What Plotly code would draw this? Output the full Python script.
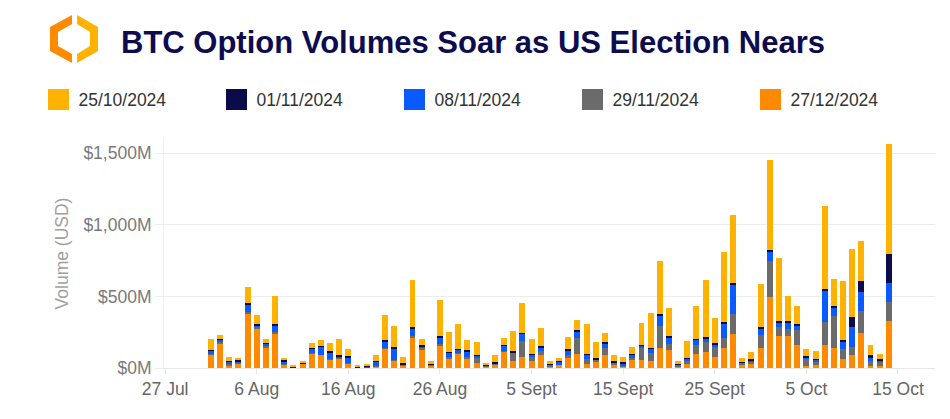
import plotly.graph_objects as go
import pandas as pd

# ---------------- data (USD millions) ----------------
dates = pd.date_range("2024-08-01", "2024-10-14", freq="D").strftime("%Y-%m-%d").tolist()

exp_25oct = [77, 28, 28, 16, 109, 61, 28, 195, 16, 9, 12, 33, 42, 54, 114, 51, 6, 7, 37, 172,
             151, 47, 326, 40, 23, 249, 139, 174, 70, 93, 12, 49, 49, 142, 204, 105, 126, 19, 16, 82,
             70, 204, 109, 63, 40, 40, 49, 153, 246, 372, 195, 16, 119, 225, 400, 172, 493, 474, 23, 47,
             298, 628, 444, 176, 123, 49, 58, 579, 190, 411, 476, 279, 70, 40, 767]
exp_01nov = [7, 7, 7, 7, 12, 9, 7, 9, 7, 5, 7, 7, 7, 7, 7, 7, 5, 7, 7, 9,
             9, 9, 9, 9, 7, 9, 7, 7, 7, 7, 7, 9, 7, 9, 9, 7, 7, 9, 7, 9,
             12, 7, 12, 9, 9, 7, 7, 7, 7, 7, 7, 9, 7, 7, 7, 7, 7, 9, 9, 9,
             9, 9, 9, 9, 9, 7, 7, 7, 9, 9, 72, 75, 19, 7, 204]
exp_08nov = [21, 16, 19, 14, 56, 9, 14, 44, 21, 2, 1, 30, 56, 47, 16, 40, 1, 5, 30, 49,
             79, 1, 56, 16, 1, 47, 33, 19, 42, 14, 1, 1, 37, 2, 47, 16, 26, 1, 23, 35,
             44, 28, 1, 30, 1, 19, 23, 14, 26, 75, 49, 1, 12, 35, 23, 23, 100, 209, 1, 9,
             44, 68, 35, 44, 35, 12, 12, 221, 61, 56, 137, 135, 23, 14, 137]
exp_29nov = [7, 9, 7, 3, 9, 12, 12, 12, 2, 1, 2, 7, 3, 3, 2, 2, 1, 1, 2, 2,
             2, 9, 12, 7, 7, 9, 7, 7, 7, 33, 9, 9, 7, 54, 112, 26, 30, 12, 1, 21,
             112, 35, 12, 51, 19, 1, 16, 82, 58, 153, 37, 14, 28, 63, 72, 65, 70, 142, 14, 16,
             91, 253, 61, 51, 103, 47, 23, 162, 228, 70, 58, 151, 33, 23, 130]
exp_27dec = [91, 174, 19, 30, 379, 277, 142, 242, 23, 2, 30, 98, 91, 61, 65, 33, 2, 4, 13, 135,
             54, 14, 211, 130, 14, 158, 68, 100, 68, 37, 9, 23, 112, 51, 79, 49, 89, 9, 21, 68,
             100, 30, 47, 89, 19, 12, 54, 58, 49, 139, 128, 7, 26, 100, 112, 79, 142, 235, 21, 28,
             142, 493, 223, 223, 162, 16, 21, 160, 137, 61, 91, 246, 16, 16, 328]

series_names = ["25/10/2024", "01/11/2024", "08/11/2024", "29/11/2024", "27/12/2024"]
series_values = [exp_25oct, exp_01nov, exp_08nov, exp_29nov, exp_27dec]
series_colors = ["#FFB300", "#0B0A4A", "#0A5BFF", "#6B6B6B", "#FF8A00"]

tick_dates = ["2024-07-27", "2024-08-06", "2024-08-16", "2024-08-26", "2024-09-05",
              "2024-09-15", "2024-09-25", "2024-10-05", "2024-10-15"]
tick_labels = ["27 Jul", "6 Aug", "16 Aug", "26 Aug", "5 Sept", "15 Sept", "25 Sept", "5 Oct", "15 Oct"]
y_ticks = [0, 500, 1000, 1500]
y_tick_labels = ["$0M", "$500M", "$1,000M", "$1,500M"]

FONT = "Liberation Sans, Arial, Helvetica, sans-serif"
W, H = 950, 419
ML, MR, MT, MB = 164, 15, 139, 51
PW, PH = W - ML - MR, H - MT - MB
DAY_MS = 86400000

fig = go.Figure()

# stacked bars: bottom series first
for name, vals, col in reversed(list(zip(series_names, series_values, series_colors))):
    fig.add_trace(go.Bar(
        x=dates, y=vals, name=name, marker=dict(color=col, line=dict(width=0)),
        width=0.65 * DAY_MS, legendgroup=name, showlegend=False,
        hovertemplate="%{x|%d %b}<br>$%{y}M<extra>" + name + "</extra>",
    ))

# legend entries (large squares)
for i, (name, col) in enumerate(zip(series_names, series_colors)):
    fig.add_trace(go.Scatter(
        x=[None], y=[None], mode="markers", name=name, legendgroup=name,
        legendrank=i + 1,
        marker=dict(symbol="square", size=16, color=col, line=dict(color=col, width=5)),
    ))


def px2paper(px, py):
    return (px - ML) / PW, (H - MB - py) / PH


def path(points):
    pts = [px2paper(*p) for p in points]
    return "M " + " L ".join(f"{x:.4f},{y:.4f}" for x, y in pts) + " Z"


logo_left = [(72, 15), (50, 27), (50, 51), (72, 63), (72, 54), (58, 46), (58, 32), (72, 24)]
logo_right = [(77, 15), (98, 27), (98, 51), (77, 63), (77, 54), (90, 46), (90, 32), (77, 24)]
shapes = [
    dict(type="path", xref="paper", yref="paper", path=path(logo_left),
         fillcolor="#FF8A00", line=dict(width=0)),
    dict(type="path", xref="paper", yref="paper", path=path(logo_right),
         fillcolor="#FFB300", line=dict(width=0)),
]

leg_x, leg_y = px2paper(38.5, 99.5)

fig.update_layout(
    width=W, height=H,
    margin=dict(l=ML, r=MR, t=MT, b=MB, autoexpand=False),
    paper_bgcolor="white", plot_bgcolor="white",
    barmode="stack", bargap=0,
    font=dict(family=FONT, size=17.5, color="#666666"),
    title=dict(text="<b>BTC Option Volumes Soar as US Election Nears</b>",
               font=dict(family=FONT, size=31, color="#0C0C4E"),
               xref="container", yref="container", x=121 / W, xanchor="left",
               y=1 - 42 / H, yanchor="middle"),
    legend=dict(orientation="h", xref="paper", yref="paper",
                x=leg_x, xanchor="left", y=leg_y, yanchor="middle",
                font=dict(family=FONT, size=17.5, color="#333333"),
                entrywidth=133, entrywidthmode="pixels",
                traceorder="normal", itemclick="toggle", bgcolor="rgba(0,0,0,0)"),
    showlegend=True,
    shapes=shapes,
    xaxis=dict(type="date", range=["2024-07-26 21:00", "2024-10-19 01:00"],
               tickvals=tick_dates, ticktext=tick_labels,
               ticks="outside", ticklen=5, tickcolor="#E6E6E6",
               showgrid=False, showline=True, linecolor="#E6E6E6", linewidth=1,
               tickfont=dict(family=FONT, size=17.5, color="#666666"), zeroline=False),
    yaxis=dict(range=[0, 1600], tickvals=y_ticks, ticktext=y_tick_labels,
               ticks="outside", ticklen=8, tickcolor="#EEEEEE",
               showgrid=True, gridcolor="#EDEDED", gridwidth=1,
               showline=True, linecolor="#F0F0F0", zeroline=False,
               tickfont=dict(family=FONT, size=17.5, color="#7A7A7A"),
               title=dict(text="Volume (USD)", standoff=10,
                          font=dict(family=FONT, size=17.5, color="#A0A0A0"))),
)

fig.write_html("out.html")
